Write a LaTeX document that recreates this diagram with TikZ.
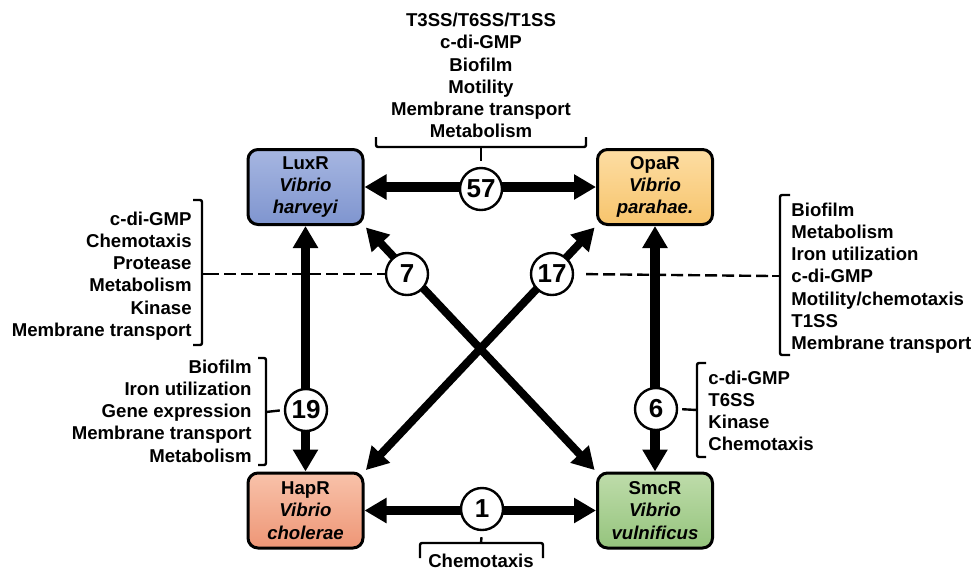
\documentclass[tikz,border=0pt]{standalone}
\usepackage{fontspec}
\setmainfont{Liberation Sans}
\usetikzlibrary{arrows.meta, positioning, shapes.geometric}

\definecolor{luxtop}{HTML}{A6B6E1}
\definecolor{luxbot}{HTML}{7F95CF}
\definecolor{opatop}{HTML}{FDDDA3}
\definecolor{opabot}{HTML}{F7C46C}
\definecolor{haptop}{HTML}{F8C2AA}
\definecolor{hapbot}{HTML}{EE9676}
\definecolor{smctop}{HTML}{BEDCAA}
\definecolor{smcbot}{HTML}{95C47D}

\begin{document}
\begin{tikzpicture}[x=0.5pt, y=-0.5pt,
    every node/.style={font=\fontsize{9.3}{11.1}\selectfont\bfseries},
    species/.style={draw, line width=1.5pt, rounded corners=5pt, minimum width=57.5pt,
      minimum height=37.5pt, align=center, inner sep=0pt},
    link/.style={line width=4.6pt, {Triangle[length=11pt,width=12pt]}-{Triangle[length=11pt,width=12pt]}},
    count/.style={circle, draw, fill=white, line width=1.2pt, minimum size=21pt, inner sep=0pt,
      font=\fontsize{13}{13}\selectfont\bfseries},
    brace/.style={line width=1.2pt, rounded corners=1pt},
    genes/.style={inner sep=0pt}]
  \useasboundingbox (0,0) rectangle (973,569);

  % Regulators
  \node[species, top color=luxtop, bottom color=luxbot] (lux) at (305.5,187) {LuxR\\\textit{Vibrio}\\\textit{harveyi}};
  \node[species, top color=opatop, bottom color=opabot] (opa) at (655,187) {OpaR\\\textit{Vibrio}\\\textit{parahae.}};
  \node[species, top color=haptop, bottom color=hapbot] (hap) at (305.5,510.5) {HapR\\\textit{Vibrio}\\\textit{cholerae}};
  \node[species, top color=smctop, bottom color=smcbot] (smc) at (655,510.5) {SmcR\\\textit{Vibrio}\\\textit{vulnificus}};

  % Shared regulon links
  \draw[link] (lux) -- (opa);
  \draw[link] (hap) -- (smc);
  \draw[link] (lux) -- (hap);
  \draw[link] (opa) -- (smc);
  \draw[link, line width=4pt, shorten <=1pt, shorten >=1pt] (lux.south east) -- (smc.north west);
  \draw[link, line width=4pt, shorten <=1pt, shorten >=1pt] (opa.south west) -- (hap.north east);

  % Shared gene counts
  \node[count] (n57) at (481,189) {57};
  \node[count] (n1) at (482,509) {1};
  \node[count] (n19) at (306,410) {19};
  \node[count] (n6) at (656,409) {6};
  \node[count] (n7) at (407,274) {7};
  \node[count] (n17) at (552,274) {17};

  % Gene lists
  \node[genes, align=center] (top) at (481,75.5)
    {T3SS/T6SS/T1SS\\c-di-GMP\\Biofilm\\Motility\\Membrane transport\\Metabolism};
  \node[genes] (bot) at (481,561) {Chemotaxis};
  \node[genes, align=right, anchor=east] (left7) at (192,276)
    {c-di-GMP\\Chemotaxis\\Protease\\Metabolism\\Kinase\\Membrane transport};
  \node[genes, align=right, anchor=east] (left19) at (252,411)
    {Biofilm\\Iron utilization\\Gene expression\\Membrane transport\\Metabolism};
  \node[genes, align=left, anchor=west] (right17) at (791,278)
    {Biofilm\\Metabolism\\Iron utilization\\c-di-GMP\\Motility/chemotaxis\\T1SS\\Membrane transport};
  \node[genes, align=left, anchor=west] (right6) at (708,411)
    {c-di-GMP\\T6SS\\Kinase\\Chemotaxis};

  % Brackets
  \draw[brace] (376,137) -- (376,147) -- (586,147) -- (586,137);
  \draw[brace, shorten >=3pt] (481,147) -- (n57.north);
  \draw[brace] (420,558) -- (420,543) -- (543,543) -- (543,558);
  \draw[brace, shorten >=3pt] (481,543) -- (n1.south);
  \draw[brace] (193,200) -- (202,200) -- (202,345) -- (193,345);
  \draw[brace] (202,274) -- (207,274) coordinate (brL);
  \draw[brace] (258,358) -- (266,358) -- (266,465) -- (258,465);
  \draw[brace, shorten >=2pt] (266,412) -- (n19.west);
  \draw[brace] (790,195) -- (780,195) -- (780,355) -- (790,355);
  \draw[brace] (780,276) -- (772,276) coordinate (brR);
  \draw[brace] (706,363) -- (697,363) -- (697,457) -- (706,457);
  \draw[brace, shorten >=2pt] (697,410) -- (n6.east);

  % Dashed leaders
  \draw[line width=1.2pt, dash pattern=on 6pt off 2.5pt] (brL) -- (n7.west);
  \draw[line width=1.2pt, dash pattern=on 6pt off 2.5pt, shorten <=6pt] (n17.east) -- (brR);
\end{tikzpicture}
\end{document}
